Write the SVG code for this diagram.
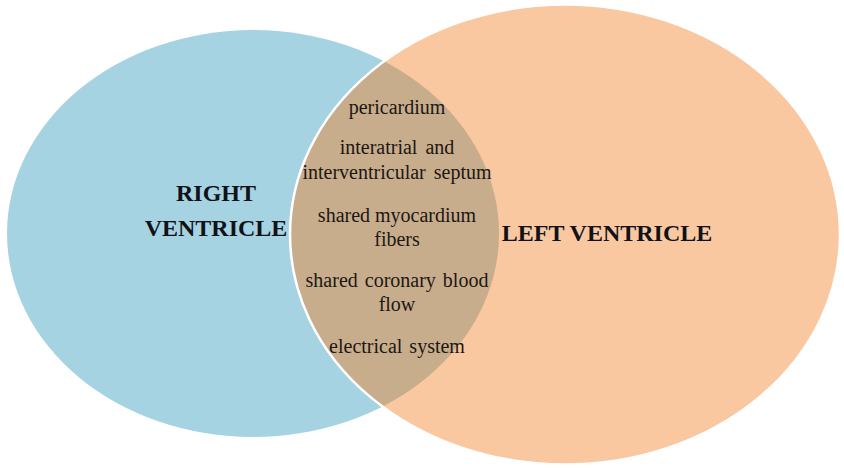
<svg xmlns="http://www.w3.org/2000/svg" width="844" height="468" viewBox="0 0 844 468">
  <style>
    .lbl { font-family: "Liberation Serif", "Times New Roman", serif; font-weight: bold; font-size: 24px; fill: #111118; text-anchor: middle; }
    .item { font-family: "Liberation Serif", "Times New Roman", serif; font-size: 20px; fill: #1c1712; text-anchor: middle; }
  </style>
  <defs>
    <clipPath id="peachClip">
      <ellipse cx="565" cy="234.5" rx="275" ry="230"/>
    </clipPath>
  </defs>
  <rect width="844" height="468" fill="#ffffff"/>
  <g id="right-ventricle">
    <ellipse cx="253" cy="233.5" rx="246" ry="203.5" fill="#A6D3E2"/>
  </g>
  <g id="left-ventricle">
    <ellipse cx="565" cy="234.5" rx="275" ry="230" fill="#F9C8A1"/>
  </g>
  <g id="overlap">
    <ellipse cx="253" cy="233.5" rx="246" ry="203.5" fill="#C8AD8D" clip-path="url(#peachClip)"/>
    <ellipse cx="565" cy="234.5" rx="275" ry="230" fill="none" stroke="#ffffff" stroke-width="2.5"/>
  </g>
  <g id="right-label">
    <text class="lbl" x="216" y="201">RIGHT</text>
    <text class="lbl" x="216" y="236">VENTRICLE</text>
  </g>
  <g id="left-label">
    <text class="lbl" x="607" y="241">LEFT VENTRICLE</text>
  </g>
  <g id="shared-items">
    <text class="item" x="397" y="114">pericardium</text>
    <text class="item" x="397" y="154" word-spacing="3">interatrial and</text>
    <text class="item" x="397" y="179" word-spacing="3">interventricular septum</text>
    <text class="item" x="397" y="222">shared myocardium</text>
    <text class="item" x="397" y="246">fibers</text>
    <text class="item" x="397" y="287" word-spacing="2">shared coronary blood</text>
    <text class="item" x="397" y="311">flow</text>
    <text class="item" x="397" y="353" word-spacing="2">electrical system</text>
  </g>
</svg>
